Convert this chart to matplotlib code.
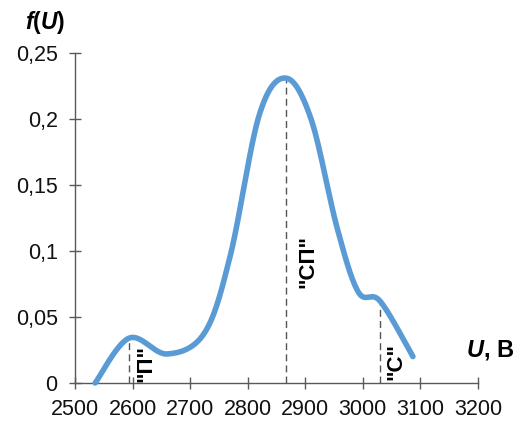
import matplotlib.pyplot as plt
import numpy as np

# values (U in volts, f(U))
u_vals = [2535, 2594, 2660, 2725, 2770, 2820, 2866, 2910, 2955, 2992, 3030, 3087]
f_vals = [0.0, 0.034, 0.022, 0.038, 0.097, 0.203, 0.231, 0.200, 0.118, 0.069, 0.062, 0.020]

# peaks marked with dashed lines
u_marks = [2594, 2866, 3030]
f_marks = [0.034, 0.231, 0.062]
mark_labels = ['"П"', '"СП"', '"С"']
label_pos = [(2623, 0.0144), (2904, 0.0924), (3058, 0.016)]

x_ticks = [2500, 2600, 2700, 2800, 2900, 3000, 3100, 3200]
y_ticks = [0, 0.05, 0.1, 0.15, 0.2, 0.25]
y_tick_labels = ['0', '0,05', '0,1', '0,15', '0,2', '0,25']


def smooth(x, y, n=30):
    # excel-like smoothing (uniform catmull-rom)
    p = np.column_stack([x, y]).astype(float)
    p = np.vstack([p[0], p, p[-1]])
    out = []
    t = np.linspace(0, 1, n)[:, None]
    for i in range(1, len(p) - 2):
        p0, p1, p2, p3 = p[i - 1], p[i], p[i + 1], p[i + 2]
        seg = 0.5 * ((2 * p1) + (-p0 + p2) * t + (2 * p0 - 5 * p1 + 4 * p2 - p3) * t ** 2
                     + (-p0 + 3 * p1 - 3 * p2 + p3) * t ** 3)
        out.append(seg)
    out = np.vstack(out)
    return out[:, 0], out[:, 1]


plt.rcParams['font.family'] = ['Liberation Sans', 'DejaVu Sans']
plt.rcParams['mathtext.fontset'] = 'custom'
plt.rcParams['mathtext.it'] = 'Liberation Sans:italic:bold'
plt.rcParams['mathtext.rm'] = 'Liberation Sans:bold'

fig = plt.figure(figsize=(5.26, 4.21), dpi=100)
ax = fig.add_axes([75 / 526, 38 / 421, 403 / 526, 330 / 421])

sx, sy = smooth(u_vals, f_vals)
ax.plot(sx, sy, color='#5B9BD5', lw=4, solid_capstyle='round', clip_on=False, zorder=3)

for u, f in zip(u_marks, f_marks):
    ax.plot([u, u], [0, f], color='#555555', lw=1.0, ls=(0, (5, 3)), zorder=2)

for (lx, ly), txt in zip(label_pos, mark_labels):
    ax.text(lx, ly, txt, rotation=90, ha='center', va='center',
            fontsize=16, fontweight='bold', color='black')

ax.set_xlim(2500, 3200)
ax.set_ylim(0, 0.25)
ax.set_xticks(x_ticks)
ax.set_yticks(y_ticks)
ax.set_yticklabels(y_tick_labels)

for s in ['top', 'right']:
    ax.spines[s].set_visible(False)
for s in ['left', 'bottom']:
    ax.spines[s].set_color('#595959')
    ax.spines[s].set_linewidth(1.0)
ax.tick_params(direction='inout', length=9, width=1.0, color='#595959',
               labelsize=15.5, labelcolor='#111111')
ax.tick_params(axis='x', pad=7)
ax.tick_params(axis='y', pad=8)

ax.text(2448, 0.273, r'$f$(' + r'$U$)', ha='center', va='center',
        fontsize=16.5, fontweight='bold', clip_on=False)
ax.text(3180, 0.025, r'$U$, В', ha='left', va='center',
        fontsize=17, fontweight='bold', clip_on=False)

fig.savefig('out.png', dpi=100)
